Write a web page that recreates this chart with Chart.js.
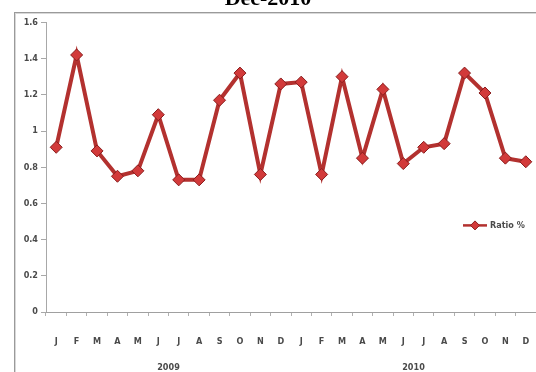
<!DOCTYPE html>
<html>
<head>
<meta charset="utf-8">
<script src="https://cdn.jsdelivr.net/npm/chart.js@4/dist/chart.umd.min.js"></script>
<style>
  html, body { margin: 0; padding: 0; background: #fff; overflow: hidden; }
  #wrap { position: absolute; left: 0; top: -16px; width: 536px; height: 388px; }
</style>
</head>
<body>
<div id="wrap"><canvas id="c" width="536" height="388"></canvas></div>
<script>
// Monthly ratio, Jan 2009 – Dec 2010
const months = ['J','F','M','A','M','J','J','A','S','O','N','D',
                'J','F','M','A','M','J','J','A','S','O','N','D'];
const years = ['2009', '2010'];
const ratio = [0.91, 1.42, 0.89, 0.75, 0.78, 1.09, 0.73, 0.73, 1.17, 1.32, 0.76, 1.26,
               1.27, 0.76, 1.30, 0.85, 1.23, 0.82, 0.91, 0.93, 1.32, 1.21, 0.85, 0.83];
const seriesName = 'Ratio %';
const titleText = 'Dec-2010';

const lineColor = '#b3312f';
const markerFill = '#d23a3a';
const markerEdge = '#8a1d1d';
const tickFont = { family: "'Liberation Sans Narrow', 'DejaVu Sans Condensed', Arial, sans-serif", size: 9, weight: 'bold' };
const tickColor = '#4a4a4a';

// Outer frame of the chart panel
const framePlugin = {
  id: 'frame',
  beforeDraw(chart) {
    const ctx = chart.ctx;
    ctx.save();
    ctx.fillStyle = '#fff';
    ctx.fillRect(0, 0, chart.width, chart.height);
    ctx.strokeStyle = '#d8d8d8';
    ctx.lineWidth = 1;
    ctx.strokeRect(15.5, 29.5, 800, 800);
    ctx.strokeStyle = '#9a9a9a';
    ctx.strokeRect(14.5, 28.5, 800, 800);
    ctx.restore();
  }
};

// Legend inside the plot: line with a diamond marker, then the series name
const legendPlugin = {
  id: 'inlineLegend',
  afterDraw(chart) {
    const ctx = chart.ctx;
    const area = chart.chartArea;
    const x0 = area.right - 73;
    const y = area.top + 203;
    ctx.save();
    ctx.strokeStyle = lineColor;
    ctx.lineWidth = 2.5;
    ctx.beginPath();
    ctx.moveTo(x0, y);
    ctx.lineTo(x0 + 24, y);
    ctx.stroke();
    const cx = x0 + 12, r = 4.5;
    ctx.beginPath();
    ctx.moveTo(cx, y - r);
    ctx.lineTo(cx + r, y);
    ctx.lineTo(cx, y + r);
    ctx.lineTo(cx - r, y);
    ctx.closePath();
    ctx.fillStyle = markerFill;
    ctx.fill();
    ctx.strokeStyle = markerEdge;
    ctx.lineWidth = 1;
    ctx.stroke();
    ctx.font = `bold 9px ${tickFont.family}`;
    ctx.fillStyle = tickColor;
    ctx.textBaseline = 'middle';
    ctx.textAlign = 'left';
    ctx.fillText(seriesName, x0 + 27, y + 0.5);
    ctx.restore();
  }
};

function fixedBox(height) {
  return function (scale) {
    scale.height = height;
    scale.paddingLeft = 0;
    scale.paddingRight = 0;
  };
}

new Chart(document.getElementById('c'), {
  type: 'line',
  data: {
    labels: months,
    datasets: [{
      label: seriesName,
      data: ratio,
      borderColor: lineColor,
      borderWidth: 4,
      pointStyle: 'rectRot',
      pointRadius: 6,
      pointBackgroundColor: markerFill,
      pointBorderColor: markerEdge,
      pointBorderWidth: 1,
      tension: 0,
      clip: false
    }]
  },
  options: {
    responsive: false,
    animation: false,
    events: [],
    layout: { autoPadding: false, padding: { left: 0, right: 0, top: 0, bottom: 0 } },
    plugins: {
      legend: { display: false },
      tooltip: { enabled: false },
      title: {
        display: true,
        text: titleText,
        color: '#000',
        font: { family: "'Liberation Serif', 'Times New Roman', serif", size: 22, weight: 'bold' },
        padding: { top: 2, bottom: 10 }
      }
    },
    scales: {
      y: {
        min: 0,
        max: 1.6,
        afterFit(scale) { scale.width = 46; },
        ticks: {
          stepSize: 0.2,
          padding: 3,
          color: tickColor,
          font: tickFont,
          callback: v => String(Math.round(v * 10) / 10)
        },
        grid: { drawOnChartArea: false, tickLength: 5, color: '#a8a8a8' },
        border: { color: '#a8a8a8' }
      },
      x: {
        type: 'category',
        offset: true,
        afterFit: fixedBox(34),
        ticks: {
          padding: 20,
          color: tickColor,
          font: tickFont,
          maxRotation: 0,
          autoSkip: false
        },
        grid: { drawOnChartArea: false, offset: true, tickLength: 4, color: '#b0b0b0' },
        border: { color: '#a0a0a0' }
      },
      years: {
        type: 'category',
        position: 'bottom',
        labels: years,
        offset: true,
        afterFit: fixedBox(26),
        ticks: {
          padding: 16,
          color: tickColor,
          font: tickFont,
          maxRotation: 0
        },
        grid: { display: false, drawTicks: false },
        border: { display: false }
      }
    }
  },
  plugins: [framePlugin, legendPlugin]
});
</script>
</body>
</html>
